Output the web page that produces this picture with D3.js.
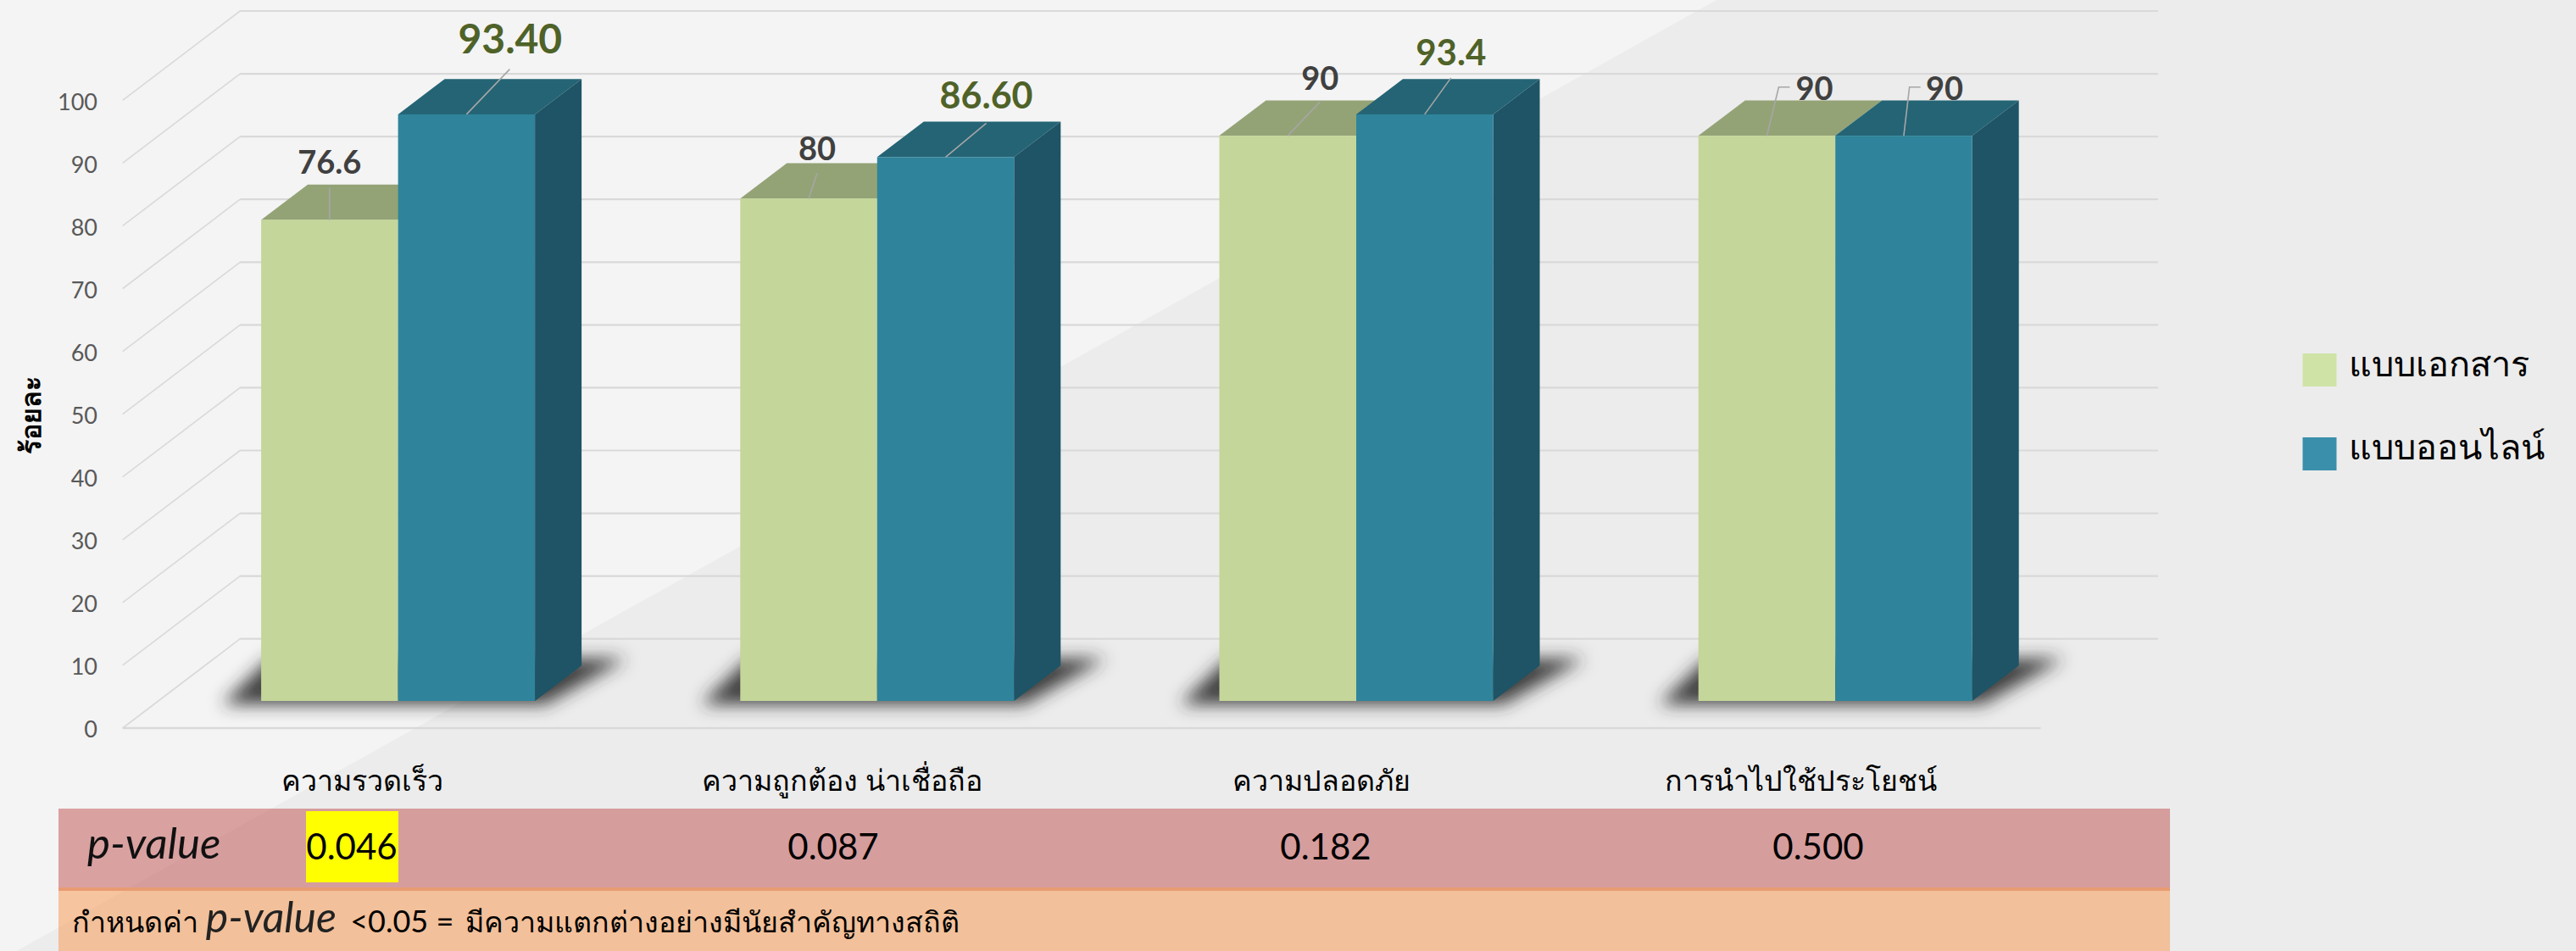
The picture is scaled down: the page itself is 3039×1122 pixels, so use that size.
<!DOCTYPE html>
<html><head><meta charset="utf-8">
<script src="https://cdn.jsdelivr.net/npm/d3@7"></script>
<style>html,body{margin:0;padding:0;background:#ececec;overflow:hidden}svg{display:block}text{font-family:Lato,"Noto Sans","DejaVu Sans",sans-serif}</style>
</head><body><div id="c"></div>
<script>
const categories=["ความรวดเร็ว","ความถูกต้อง น่าเชื่อถือ","ความปลอดภัย","การนำไปใช้ประโยชน์"];
const seriesNames=["แบบเอกสาร","แบบออนไลน์"];
const paper=[76.6,80,90,90];
const online=[93.4,86.6,93.4,90];
const paperLabels=["76.6","80","90","90"];
const onlineLabels=["93.40","86.60","93.4","90"];
const pValues=["0.046","0.087","0.182","0.500"];
const yTicks=[0,10,20,30,40,50,60,70,80,90,100];
const yTitle="ร้อยละ";
const note=["กำหนดค่า ","p-value"," <0.05 = ","มีความแตกต่างอย่างมีนัยสำคัญทางสถิติ"];

// layout
const W=3039,H=1122;
const wall={dx:138.5,dy:-105.3}, depth={dx:55,dy:-41.7};
const colors={paper:{front:"#c4d699",top:"#94a376",legend:"#d0e3a6"},online:{front:"#2f849b",top:"#246475",side:"#1e5465",legend:"#3a8fab"}};
// label offset from bar front-top centre: text dx, baseline dy, size, colour, leader points
const paperLayout=[
 {dx:0,dy:-54,fs:38,c:"#404040",lead:[[0,-38]]},
 {dx:10,dy:-45,fs:38,c:"#404040",lead:[[10,-30]]},
 {dx:38,dy:-54.3,fs:38,c:"#404040",lead:[[38,-40]]},
 {dx:56,dy:-42,fs:38,c:"#404040",lead:[[27,-57.3],[14,-57.3]]}];
const onlineLayout=[
 {dx:51.5,dy:-71.7,fs:48,c:"#4f6228",lead:[[51,-53.3]]},
 {dx:48,dy:-57,fs:43,c:"#4f6228",lead:[[48,-40]]},
 {dx:31,dy:-58.3,fs:42,c:"#4f6228",lead:[[31,-43]]},
 {dx:48,dy:-42,fs:38,c:"#404040",lead:[[19.7,-57.3],[6.7,-57.3]]}];
const pCenters=[415,983,1564,2145];

const svg=d3.select("#c").append("svg").attr("width",W).attr("height",H).attr("viewBox",`0 0 ${W} ${H}`);
const defs=svg.append("defs");
defs.append("filter").attr("id","blur").attr("x","-20%").attr("y","-50%").attr("width","140%").attr("height","200%")
  .append("feGaussianBlur").attr("stdDeviation",10);

// background
svg.append("rect").attr("width",W).attr("height",H).attr("fill","#ececec");
svg.append("polygon").attr("points","0,0 2025,0 0,1133").attr("fill","#f4f4f4");

// scales
const yFront=d3.scaleLinear().domain([0,100]).range([859,118.3]);
const yBar=d3.scaleLinear().domain([0,100]).range([827,86]);
const xFloor=d3.scaleBand().domain(categories).range([144.7,2407.5]);
const xBar=d3.scaleBand().domain(categories).range([187,2447.8]);
const xInner=d3.scaleBand().domain(seriesNames).range([xBar.bandwidth()/2-161.5,xBar.bandwidth()/2+161.5]);
const line=d3.line();

// gridlines
const grid=svg.append("g").attr("fill","none").attr("stroke","#d9d9d9");
yTicks.forEach(t=>{
  const y=yFront(t),x0=xFloor.range()[0],x1=xFloor.range()[1];
  grid.append("path").attr("stroke-width",1.6).attr("d",line([[x0,y],[x0+wall.dx,y+wall.dy]]));
  grid.append("path").attr("stroke-width",2.2).attr("d",line([[x0+wall.dx,y+wall.dy],[x1+wall.dx,y+wall.dy]]));
});
grid.append("path").attr("stroke-width",2.4).attr("d",line([[xFloor.range()[0],yFront(0)],[xFloor.range()[1],yFront(0)]]));

// shadows
const shadows=svg.append("g").attr("filter","url(#blur)");
categories.forEach(c=>{
  const l=xBar(c)+xInner(seriesNames[0]), r=xBar(c)+xInner(seriesNames[1])+xInner.bandwidth();
  const b=yBar(0);
  shadows.append("polygon").attr("fill","#2e2e2e").attr("fill-opacity",.9)
   .attr("points",[[l-46,b+4],[r+12,b+4],[r+108,b-50],[l+10,b-50]].join(" "));
});

// bars
function bar(g,x,w,v,st,side){
  const y=yBar(v),b=yBar(0);
  g.append("polygon").attr("fill",st.top).attr("points",[[x,y],[x+depth.dx,y+depth.dy],[x+w+depth.dx,y+depth.dy],[x+w,y]].join(" "));
  if(side) g.append("polygon").attr("fill",st.side).attr("points",[[x+w,y],[x+w+depth.dx,y+depth.dy],[x+w+depth.dx,b+depth.dy],[x+w,b]].join(" "));
  g.append("rect").attr("x",x).attr("y",y).attr("width",w).attr("height",b-y).attr("fill",st.front);
}
const bars=svg.append("g");
categories.forEach((c,i)=>{
  bar(bars,xBar(c)+xInner(seriesNames[0]),xInner.bandwidth(),paper[i],colors.paper,false);
  bar(bars,xBar(c)+xInner(seriesNames[1]),xInner.bandwidth(),online[i],colors.online,true);
});

// data labels + leaders
function labels(vals,txt,layout,sname){
  categories.forEach((c,i)=>{
    const bx=xBar(c)+xInner(sname)+xInner.bandwidth()/2, by=yBar(vals[i]), L=layout[i];
    const pts=L.lead.map(p=>[bx+p[0],by+p[1]]).concat([[bx,by]]);
    svg.append("path").attr("fill","none").attr("stroke","#a6a6a6").attr("stroke-width",1.6).attr("d",line(pts));
    svg.append("text").attr("x",bx+L.dx).attr("y",by+L.dy).attr("text-anchor","middle")
      .attr("font-size",L.fs).attr("font-weight",700).attr("fill",L.c).text(txt[i]);
  });
}
labels(paper,paperLabels,paperLayout,seriesNames[0]);
labels(online,onlineLabels,onlineLayout,seriesNames[1]);

// y axis
const ax=svg.append("g").attr("transform","translate(115,0)")
  .call(d3.axisLeft(yFront).tickValues(yTicks).tickSize(0).tickPadding(0));
ax.select(".domain").remove();
ax.selectAll("text").attr("font-size",27).attr("fill","#595959").attr("dy","0.4em").style("font-family","Lato");
svg.append("text").attr("transform","translate(48,490) rotate(-90)").attr("text-anchor","middle")
  .attr("font-size",32).attr("font-weight",700).attr("fill","#000").text(yTitle);

// x axis
const bx=svg.append("g").attr("transform","translate(0,933)")
  .call(d3.axisBottom(xFloor).tickSize(0).tickPadding(0));
bx.select(".domain").remove();
bx.selectAll("text").attr("y",0).attr("dy",0).attr("font-size",34).attr("fill","#000");

// table
svg.append("rect").attr("x",69).attr("y",954).attr("width",2491).attr("height",93).attr("fill","rgb(192,78,78)").attr("fill-opacity",.5);
svg.append("rect").attr("x",69).attr("y",1051).attr("width",2491).attr("height",71).attr("fill","rgb(248,148,72)").attr("fill-opacity",.5);
svg.append("rect").attr("x",69).attr("y",1047).attr("width",2491).attr("height",4).attr("fill","#e89b72");
svg.append("rect").attr("x",361).attr("y",957).attr("width",109).attr("height",84).attr("fill","#ffff00");
svg.append("text").attr("x",103).attr("y",1013).attr("font-size",51).attr("font-style","italic").attr("fill","#111").text("p-value");
pValues.forEach((p,i)=>svg.append("text").attr("x",pCenters[i]).attr("y",1014).attr("text-anchor","middle")
  .attr("font-size",42).attr("fill","#000").text(p));
const nt=svg.append("text").attr("x",85).attr("y",1100).attr("font-size",34).attr("fill","#000").attr("xml:space","preserve");
nt.append("tspan").text(note[0]);
nt.append("tspan").attr("font-style","italic").attr("font-size",50).attr("fill","#222").text(note[1]);
nt.append("tspan").attr("font-size",36).attr("dx",7).text(note[2]);
nt.append("tspan").attr("dx",4).text(note[3]);

// legend
const leg=svg.append("g");
[[417,443.6],[516,542]].forEach((p,i)=>{
  leg.append("rect").attr("x",2716.5).attr("y",p[0]).attr("width",40).attr("height",39).attr("fill",i?colors.online.legend:colors.paper.legend);
  leg.append("text").attr("x",2771).attr("y",p[1]).attr("font-size",41.5).attr("fill","#000").text(seriesNames[i]);
});
</script></body></html>
